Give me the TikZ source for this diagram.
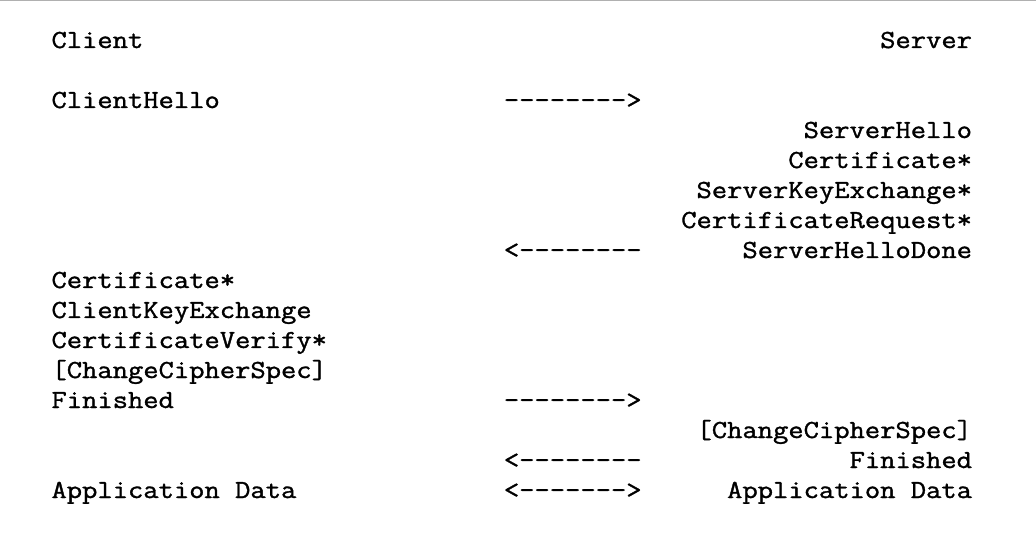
\documentclass[tikz,border=0pt]{standalone}
\usepackage{graphicx}
\usepackage{fontspec}
\newfontfamily\mymono[FakeBold=1.2]{Latin Modern Mono}
\newcommand{\monotext}[1]{\scalebox{1.1429}[1]{\mymono\fontsize{26}{30}\selectfont #1}}
\tikzset{
  lt/.style={anchor=base west, inner sep=0pt, outer sep=0pt},
  rt/.style={anchor=base east, inner sep=0pt, outer sep=0pt},
  ar/.style={anchor=base west, inner sep=0pt, outer sep=0pt},
}
\begin{document}
\begin{tikzpicture}[x=1pt,y=-1pt]
\useasboundingbox (0,0) rectangle (1036,537);
\fill[white] (0,0) rectangle (1036,537);
\coordinate (tl) at (0,0.75);
\coordinate (tr) at (1036,0.75);
\draw[line width=1.5pt, color={rgb,255:red,176;green,176;blue,176}] (tl) -- (tr);
% columns
\def\xl{51.5}
\def\xa{503.9}
\def\xr{972}
\node[lt] (client) at (\xl,48) {\monotext{Client}};
\node[rt] (server) at (\xr,48) {\monotext{Server}};
\node[lt] (chello) at (\xl,108) {\monotext{ClientHello}};
\node[ar] (a1) at (\xa,108) {\monotext{-{}-{}-{}-{}-{}-{}-{}->}};
\node[rt] (shello) at (\xr,138) {\monotext{ServerHello}};
\node[rt] (scert) at (\xr,168) {\monotext{Certificate*}};
\node[rt] (ske) at (\xr,198) {\monotext{ServerKeyExchange*}};
\node[rt] (creq) at (\xr,228) {\monotext{CertificateRequest*}};
\node[ar] (a2) at (\xa,258) {\monotext{<-{}-{}-{}-{}-{}-{}-{}-}};
\node[rt] (shd) at (\xr,258) {\monotext{ServerHelloDone}};
\node[lt] (ccert) at (\xl,288) {\monotext{Certificate*}};
\node[lt] (cke) at (\xl,318) {\monotext{ClientKeyExchange}};
\node[lt] (cv) at (\xl,348) {\monotext{CertificateVerify*}};
\node[lt] (cccs) at (\xl,378) {\monotext{[ChangeCipherSpec]}};
\node[lt] (cfin) at (\xl,408) {\monotext{Finished}};
\node[ar] (a3) at (\xa,408) {\monotext{-{}-{}-{}-{}-{}-{}-{}->}};
\node[rt] (sccs) at (\xr,438) {\monotext{[ChangeCipherSpec]}};
\node[ar] (a4) at (\xa,468) {\monotext{<-{}-{}-{}-{}-{}-{}-{}-}};
\node[rt] (sfin) at (\xr,468) {\monotext{Finished}};
\node[lt] (capp) at (\xl,498) {\monotext{Application Data}};
\node[ar] (a5) at (\xa,498) {\monotext{<-{}-{}-{}-{}-{}-{}->}};
\node[rt] (sapp) at (\xr,498) {\monotext{Application Data}};
\end{tikzpicture}
\end{document}
